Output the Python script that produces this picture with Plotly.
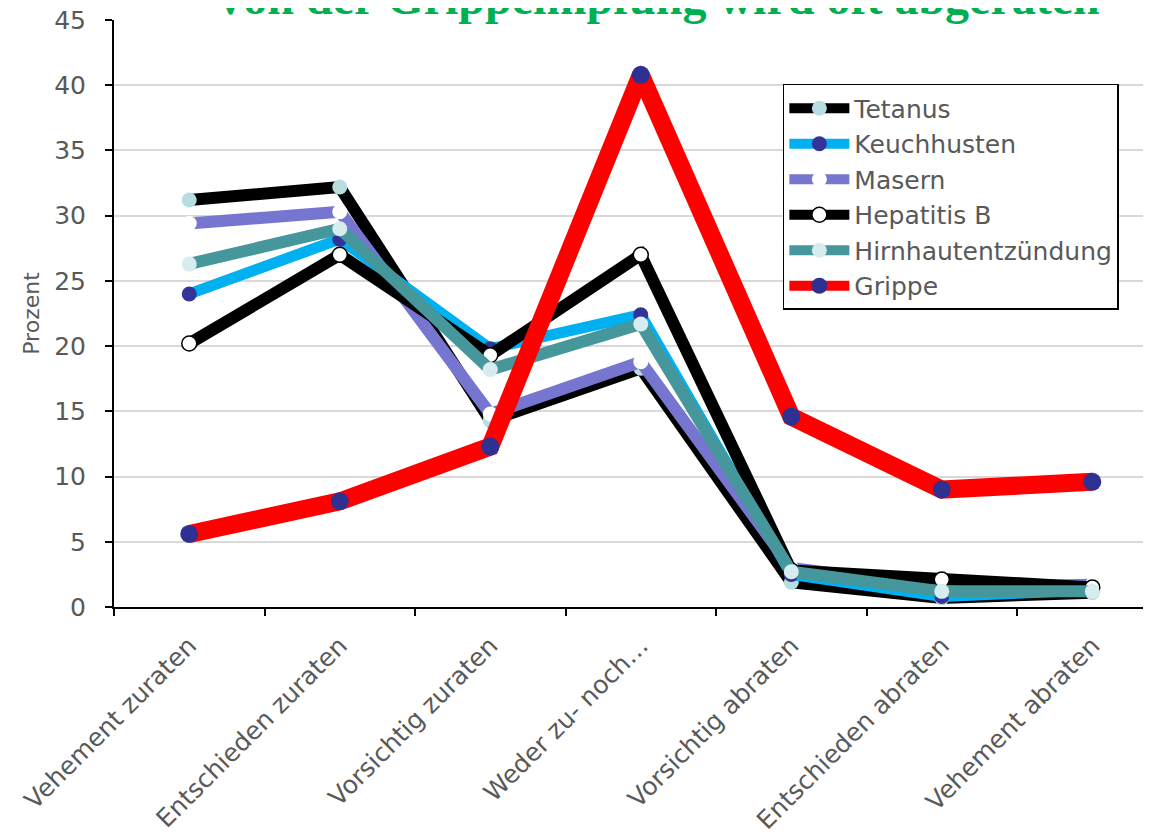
import plotly.graph_objects as go

categories = ["Vehement zuraten", "Entschieden zuraten", "Vorsichtig zuraten",
              "Weder zu- noch…", "Vorsichtig abraten", "Entschieden abraten",
              "Vehement abraten"]

tetanus = [31.2, 32.2, 14.3, 18.3, 1.9, 0.7, 1.1]
keuchhusten = [24.0, 28.2, 19.8, 22.4, 2.5, 0.8, 1.3]
masern = [29.4, 30.3, 14.8, 18.8, 3.0, 1.5, 1.7]
hepatitis_b = [20.2, 27.0, 19.3, 27.0, 2.8, 2.1, 1.5]
hirnhaut = [26.3, 29.0, 18.2, 21.7, 2.7, 1.2, 1.2]
grippe = [5.6, 8.1, 12.3, 40.8, 14.6, 9.0, 9.6]

series = [
    ("Tetanus", tetanus, "#000000", 12, "#B7DDE0", None, 15),
    ("Keuchhusten", keuchhusten, "#00B0F0", 11, "#333399", None, 15),
    ("Masern", masern, "#7676D1", 12, "#FFFFFF", None, 15),
    ("Hepatitis B", hepatitis_b, "#000000", 12, "#FFFFFF", "#000000", 15),
    ("Hirnhautentzündung", hirnhaut, "#46979C", 12, "#D6ECEE", None, 15),
    ("Grippe", grippe, "#FF0000", 18, "#2E3192", None, 18),
]

SANS = "DejaVu Sans, Liberation Sans, Arial"

fig = go.Figure()
for name, vals, lc, lw, mc, mlc, ms in series:
    marker = dict(color=mc, size=ms)
    if mlc:
        marker["line"] = dict(color=mlc, width=1.5)
    else:
        marker["line"] = dict(width=0)
    fig.add_trace(go.Scatter(
        x=categories, y=vals, name=name, mode="lines+markers",
        line=dict(color=lc, width=lw), marker=marker,
    ))

fig.add_annotation(
    text="<b>Von der Grippeimpfung wird oft abgeraten</b>",
    xref="paper", yref="paper", x=0.5236, y=1.038, xanchor="center", yanchor="middle",
    showarrow=False,
    font=dict(family="Liberation Serif", size=48, color="#00B050"),
)

fig.update_layout(
    width=1143, height=831,
    margin=dict(l=106, r=0, t=12, b=232, autoexpand=False),
    paper_bgcolor="white", plot_bgcolor="white",
    font=dict(family=SANS, color="#595959"),
    showlegend=True,
    legend=dict(
        x=0.645, y=0.891, xanchor="left", yanchor="top",
        bgcolor="white", bordercolor="#000000", borderwidth=1.5,
        font=dict(family=SANS, size=25, color="#595959"), itemwidth=60,
        tracegroupgap=0,
    ),
    xaxis=dict(
        type="category", range=[-0.5, 6.39],
        showline=True, linecolor="#000000", linewidth=2,
        ticks="outside", ticklen=7, tickwidth=1.5, tickcolor="#000000",
        tickson="boundaries", tickangle=-45,
        tickfont=dict(family=SANS, size=25, color="#595959"),
        ticklabelstandoff=12,
        showgrid=False, zeroline=False,
    ),
    yaxis=dict(
        range=[0, 45], dtick=5,
        showline=True, linecolor="#000000", linewidth=2,
        ticks="outside", ticklen=7, tickwidth=1.5, tickcolor="#000000",
        tickfont=dict(family=SANS, size=25, color="#595959"),
        ticklabelstandoff=14, ticklabeloverflow="allow",
        showgrid=True, gridcolor="#D9D9D9", gridwidth=1.5,
        zeroline=False,
        title=dict(text="Prozent", font=dict(family=SANS, size=22, color="#595959"), standoff=8),
    ),
)

fig.write_html("out.html")
